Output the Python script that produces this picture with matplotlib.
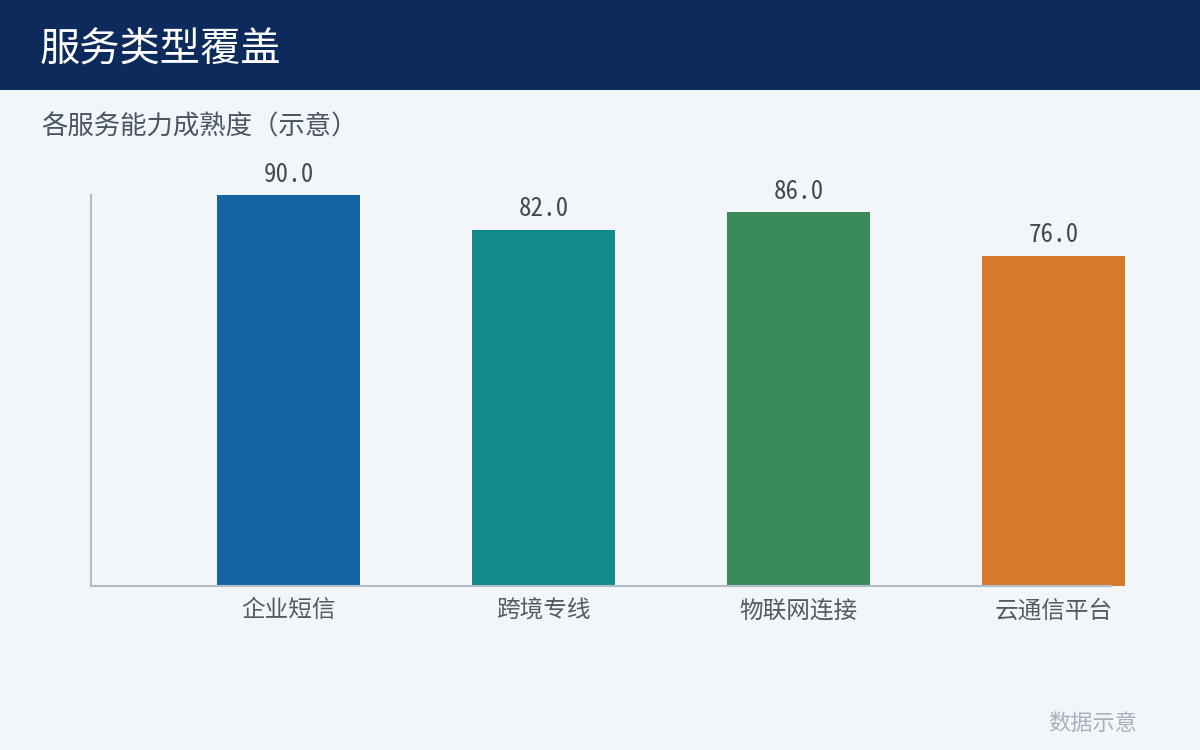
import matplotlib
matplotlib.use("Agg")
import matplotlib.pyplot as plt
from matplotlib.patches import Rectangle

plt.rcParams["font.family"] = ["Noto Sans CJK SC", "DejaVu Sans"]

categories = ["企业短信", "跨境专线", "物联网连接", "云通信平台"]
values = [90.0, 82.0, 86.0, 76.0]
colors = ["#1764a3", "#128a8c", "#3a8a5a", "#d6792a"]

title = "服务类型覆盖"
subtitle = "各服务能力成熟度（示意）"
footnote = "数据示意"

W, H = 1200, 750
fig = plt.figure(figsize=(W / 100, H / 100), dpi=100)
fig.patch.set_facecolor("#f3f6f9")

# header band
fig.patches.append(Rectangle((0, 1 - 90 / H), 1, 90 / H, transform=fig.transFigure,
                             facecolor="#0c2a5c", edgecolor="none", zorder=0))
fig.text(40 / W, 1 - 49 / H, title, color="white", fontsize=29, va="center", ha="left")
fig.text(41 / W, 1 - 127 / H, subtitle, color="#4a5563", fontsize=19, va="center", ha="left")
fig.text(1137 / W, 1 - 724 / H, footnote, color="#a8b2bd", fontsize=16, va="center", ha="right")

ax = fig.add_axes([91 / W, (H - 585.5) / H, 1020 / W, 390.5 / H])
ax.set_facecolor("none")
x = list(range(len(categories)))
bars = ax.bar(x, values, width=0.56, color=colors, clip_on=False, zorder=2)
ax.set_xlim(-0.7745, 3.2255)
ax.set_ylim(0, 90)

# value labels: monospaced digits like the reference
num_font = ["Noto Sans Mono CJK SC", "Noto Sans CJK SC", "DejaVu Sans"]
for b, v in zip(bars, values):
    ax.annotate(f"{v:.1f}", (b.get_x() + b.get_width() / 2, v), xytext=(0, 6),
                textcoords="offset points", ha="center", va="bottom",
                fontsize=18, color="#444a52", family=num_font, annotation_clip=False)

ax.set_xticks(x)
ax.set_xticklabels(categories, fontsize=17, color="#555a60")
ax.tick_params(axis="x", length=0, pad=10)
ax.set_yticks([])
for s in ["top", "right"]:
    ax.spines[s].set_visible(False)
for s in ["left", "bottom"]:
    ax.spines[s].set_color("#b0bcc8")
    ax.spines[s].set_linewidth(1.5)

fig.savefig("out.png", dpi=100, facecolor=fig.get_facecolor())
